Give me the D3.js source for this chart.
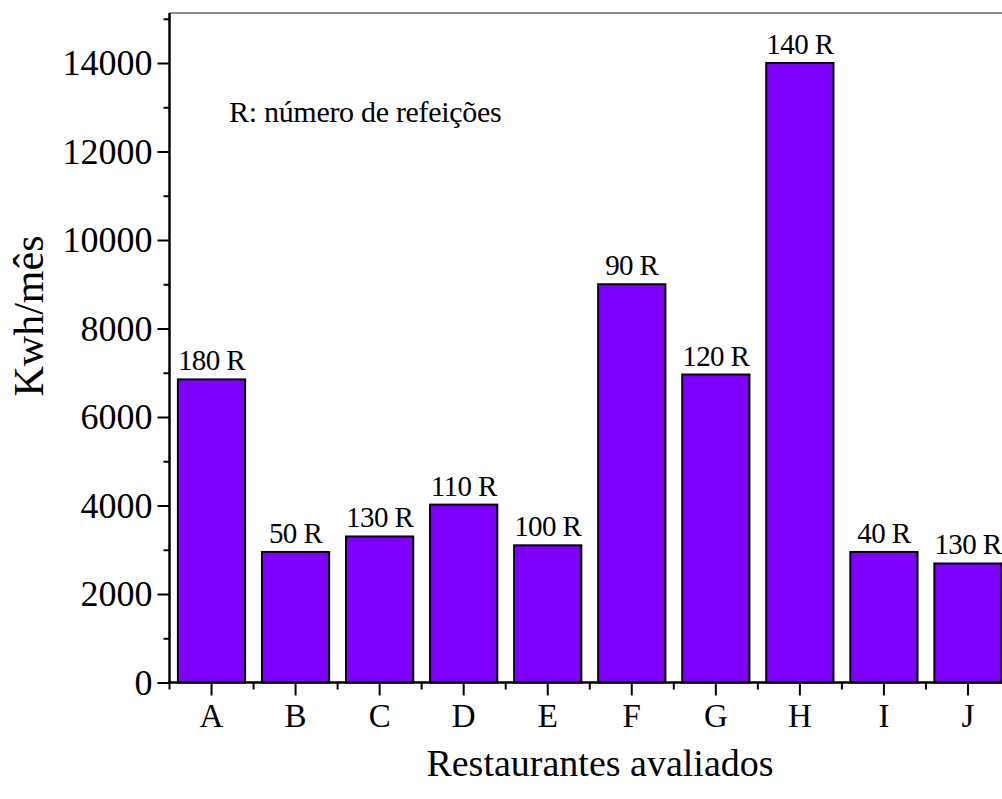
<!DOCTYPE html>
<html>
<head>
<meta charset="utf-8">
<script src="https://cdn.jsdelivr.net/npm/d3@7"></script>
<style>
  html, body { margin: 0; padding: 0; background: #fff; }
  svg { display: block; }
  text { font-family: "Liberation Serif", "Times New Roman", serif; fill: #000; }
</style>
</head>
<body>
<svg id="chart" width="1002" height="799"></svg>
<script>
const categories = ["A", "B", "C", "D", "E", "F", "G", "H", "I", "J"];
const values = [6850, 2950, 3300, 4020, 3100, 9000, 6960, 14000, 2950, 2690];
const barLabels = ["180 R", "50 R", "130 R", "110 R", "100 R", "90 R", "120 R", "140 R", "40 R", "130 R"];
const yTicks = [0, 2000, 4000, 6000, 8000, 10000, 12000, 14000];
const yMinorTicks = [1000, 3000, 5000, 7000, 9000, 11000, 13000, 15000];
const yTitle = "Kwh/mês";
const xTitle = "Restaurantes avaliados";
const note = "R: número de refeições";

const svg = d3.select("#chart");
const mLeft = 169.5, mRight = 1010, mTop = 13, mBottom = 682.5;

const x = d3.scaleBand().domain(categories).range([mLeft, mRight]).paddingInner(0.2).paddingOuter(0.1);
const xBound = d3.scaleBand().domain(categories).range([mLeft, mRight]).padding(0);
const y = d3.scaleLinear().domain([0, 15130]).range([mBottom, mTop]);

// top frame line
svg.append("line").attr("x1", mLeft).attr("x2", mRight).attr("y1", mTop).attr("y2", mTop)
  .attr("stroke", "#666").attr("stroke-width", 1.5);

// bars
svg.append("g").selectAll("rect").data(values).join("rect")
  .attr("x", (d, i) => x(categories[i]))
  .attr("width", x.bandwidth())
  .attr("y", d => y(d))
  .attr("height", d => mBottom - y(d))
  .attr("fill", "#7F00FF")
  .attr("stroke", "#000").attr("stroke-width", 2);

// bar labels
svg.append("g").selectAll("text").data(values).join("text")
  .attr("x", (d, i) => x(categories[i]) + x.bandwidth() / 2)
  .attr("y", d => y(d) - 9)
  .attr("text-anchor", "middle")
  .attr("font-size", 29)
  .attr("letter-spacing", -0.6)
  .text((d, i) => barLabels[i]);

// Y axis
const yAxis = d3.axisLeft(y).tickValues(yTicks).tickSize(12).tickPadding(5).tickFormat(d3.format("d"));
const gy = svg.append("g").attr("transform", `translate(${mLeft},0)`).call(yAxis);
gy.select(".domain").remove();
gy.selectAll(".tick line").attr("stroke", "#000").attr("stroke-width", 2);
gy.selectAll(".tick text").attr("font-size", 36).attr("fill", "#000");
const yAxisMinor = d3.axisLeft(y).tickValues(yMinorTicks).tickSize(6).tickFormat("");
const gy2 = svg.append("g").attr("transform", `translate(${mLeft},0)`).call(yAxisMinor);
gy2.select(".domain").remove();
gy2.selectAll(".tick line").attr("stroke", "#000").attr("stroke-width", 2);
svg.append("line").attr("x1", mLeft).attr("x2", mLeft).attr("y1", mTop).attr("y2", mBottom + 1)
  .attr("stroke", "#000").attr("stroke-width", 2.5);

// X axis
const xAxis = d3.axisBottom(x).tickSize(13).tickPadding(8);
const gx = svg.append("g").attr("transform", `translate(0,${mBottom})`).call(xAxis);
gx.select(".domain").remove();
gx.selectAll(".tick line").attr("stroke", "#000").attr("stroke-width", 2);
gx.selectAll(".tick text").attr("font-size", 33).attr("fill", "#000").attr("dy", "0.71em");
const gxm = svg.append("g").attr("transform", `translate(0,${mBottom})`);
gxm.selectAll("line").data(categories).join("line")
  .attr("x1", d => xBound(d)).attr("x2", d => xBound(d))
  .attr("y1", 0).attr("y2", 7)
  .attr("stroke", "#000").attr("stroke-width", 2);
svg.append("line").attr("x1", mLeft - 1).attr("x2", mRight).attr("y1", mBottom).attr("y2", mBottom)
  .attr("stroke", "#000").attr("stroke-width", 2.5);

// titles
svg.append("text")
  .attr("transform", `translate(43,316) rotate(-90)`)
  .attr("text-anchor", "middle")
  .attr("font-size", 42)
  .text(yTitle);
svg.append("text")
  .attr("x", 600).attr("y", 776)
  .attr("text-anchor", "middle")
  .attr("font-size", 38)
  .text(xTitle);
svg.append("text")
  .attr("x", 229).attr("y", 122)
  .attr("font-size", 30)
  .attr("letter-spacing", -0.3)
  .text(note);
</script>
</body>
</html>
